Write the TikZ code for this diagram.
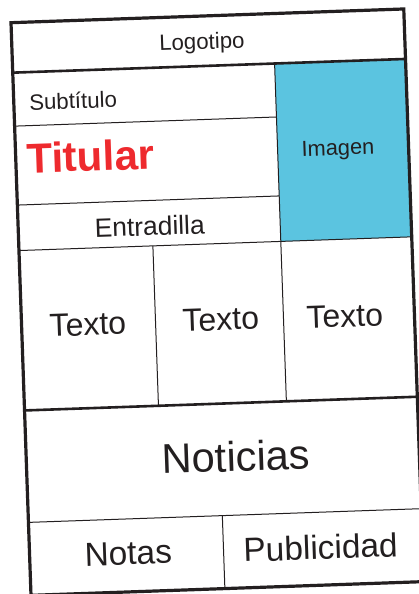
\documentclass[tikz,border=0pt]{standalone}
\usepackage{fontspec}
\setmainfont{Liberation Sans}
\definecolor{ink}{RGB}{35,31,32}
\definecolor{imgblue}{RGB}{91,196,224}
\definecolor{titred}{RGB}{238,42,46}
\tikzset{
  thinline/.style={draw=ink, line width=1pt},
  thickline/.style={draw=ink, line width=2.6pt},
  outerline/.style={draw=ink, line width=3.2pt},
  lbl/.style={inner sep=0pt, outer sep=0pt, anchor=base west, text=ink},
}
\newcommand{\fsz}[1]{\fontsize{#1}{#1}\selectfont}
\begin{document}
\begin{tikzpicture}[x=1pt,y=1pt]
\useasboundingbox (0,0) rectangle (419,594);
\clip (0,0) rectangle (419,594);
\fill[white] (0,0) rectangle (419,594);
\begin{scope}[shift={(11,571.3)}, rotate=2, transform shape]
  % image cell fill
  \fill[imgblue] (262,-50) rectangle (393,-228);
  % thin lines
  \draw[thinline] (0,-103.5) -- (262,-103.5);
  \draw[thinline] (0,-182.5) -- (262,-182.5);
  \draw[thinline] (262,-50) -- (262,-228);
  \draw[thinline] (0,-228) -- (393,-228);
  \draw[thinline] (134,-228) -- (134,-388);
  \draw[thinline] (262,-228) -- (262,-388);
  \draw[thinline] (0,-500) -- (393,-500);
  \draw[thinline] (194,-500) -- (194,-573);
  % thick lines
  \draw[thickline] (0,-50) -- (393,-50);
  \draw[thickline] (0,-388) -- (393,-388);
  \draw[outerline] (0,0) rectangle (393,-573);
  % labels
  \node[lbl] (logo) at (147.5,-33.2) {\fsz{22.2}Logotipo};
  \node[lbl] (sub) at (15.5,-88) {\fsz{22.2}Subtítulo};
  \node[lbl, text=titred] (tit) at (11,-151) {\fsz{42}\bfseries Titular};
  \node[lbl] (img) at (286,-144) {\fsz{21.8}Imagen};
  \node[lbl] (entr) at (76.5,-217.5) {\fsz{26.4}Entradilla};
  \node[lbl] (tx1) at (28,-315.2) {\fsz{32}Texto};
  \node[lbl] (tx2) at (161,-314.8) {\fsz{32}Texto};
  \node[lbl] (tx3) at (285,-315.7) {\fsz{32}Texto};
  \node[lbl] (not) at (135.5,-456.3) {\fsz{41.6}Noticias};
  \node[lbl] (nts) at (55,-545.6) {\fsz{33.4}Notas};
  \node[lbl] (pub) at (214,-546.9) {\fsz{33.4}Publicidad};
\end{scope}
\end{tikzpicture}
\end{document}
